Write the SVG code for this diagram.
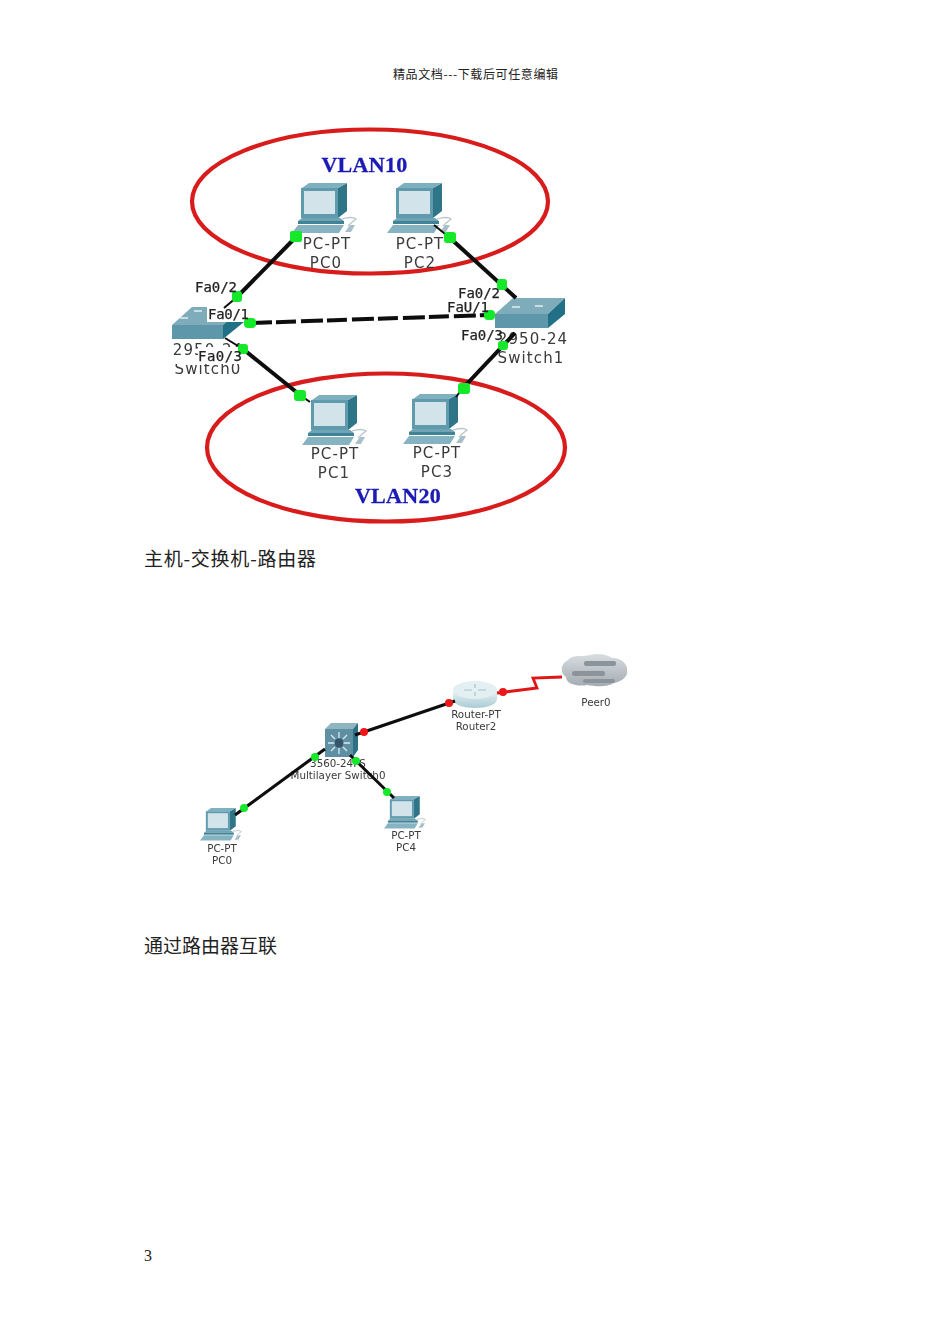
<svg xmlns="http://www.w3.org/2000/svg" xmlns:xlink="http://www.w3.org/1999/xlink" width="950" height="1344" viewBox="0 0 950 1344">
<style>
.cjk{font-family:"Noto Sans CJK SC","Noto Sans",sans-serif;fill:#222}
.lab{font-family:"DejaVu Sans",Verdana,sans-serif;fill:#3a3a3a;text-anchor:middle}
.big{font-size:15px;letter-spacing:1.100px}
.fa{font-family:"DejaVu Sans Mono","Liberation Mono",monospace;fill:#222;font-size:14px;stroke:#222;stroke-width:.25}
.small{font-size:10.300px}
.vlan{font-family:"Liberation Serif","Times New Roman",serif;font-weight:bold;font-size:22px;fill:#1a1ab4;stroke:#1a1ab4;stroke-width:.3;letter-spacing:.3px;text-anchor:middle}
.ell{fill:none;stroke:#d81c1c;stroke-width:4.200}
.wire{fill:none;stroke:#0a0a0a;stroke-width:4}
.thin{fill:none;stroke:#0a0a0a;stroke-width:2}
.wire2{fill:none;stroke:#0a0a0a;stroke-width:3}
.dotG{fill:#12e82a}
.dotR{fill:#ee1515}
.mask{fill:#fff}
</style>
<defs>
<filter id="soft" x="-5%" y="-5%" width="110%" height="110%"><feGaussianBlur stdDeviation="0.45"/></filter>
<linearGradient id="rt" x1="0" y1="0" x2="0" y2="1"><stop offset="0" stop-color="#eaf3f5"/><stop offset="1" stop-color="#a9ccd4"/></linearGradient>
<linearGradient id="cl" x1="0" y1="0" x2="0" y2="1"><stop offset="0" stop-color="#d8dde0"/><stop offset="1" stop-color="#a3acb2"/></linearGradient>
<g id="pc">
<path d="M46 35L55 28L55 0L46 5Z" fill="#2e7488"/>
<path d="M10 5L17 0H55L46 5Z" fill="#7fb0bf"/>
<rect x="9" y="5" width="37" height="30" fill="#5f9aad"/>
<rect x="12" y="8" width="31" height="23" fill="#d3e3ea"/>
<path d="M10 35H48L52 38H6Z" fill="#6fa3b4"/>
<path d="M6 38H52V41H6Z" fill="#3f8296"/>
<path d="M6 42H52L47 50H0Z" fill="#86b3c1"/>
<path d="M50 36Q60 33 64 36Q60 39 56 43" fill="none" stroke="#b6c6cc" stroke-width="1.300"/>
<path d="M53 49L58 42H63L59 49Z" fill="#a8bfc7"/>
</g>
</defs>
<rect width="950" height="1344" fill="#fff"/>
<text id="header" x="475.500" y="79" class="cjk" font-size="12" text-anchor="middle" textLength="165">精品文档---下载后可任意编辑</text>

<g id="figure1" filter="url(#soft)">
<g id="vlan10"><ellipse class="ell" cx="370" cy="201.500" rx="178" ry="72"/><text class="vlan" x="364.500" y="172">VLAN10</text></g>
<g id="vlan20"><ellipse class="ell" cx="386" cy="447.500" rx="179" ry="74"/><text class="vlan" x="398" y="503">VLAN20</text></g>

<g id="switch0">
<path d="M172 325L192 307H244L223 325Z" fill="#7facba"/>
<rect x="180" y="317" width="8" height="2" fill="#c9dde3"/><rect x="194" y="310" width="8" height="2" fill="#c9dde3"/>
<path d="M172 325H223V339H172Z" fill="#5f97aa"/>
<path d="M223 325L244 307V322L223 339Z" fill="#216f85"/>
<rect class="mask" x="207" y="306" width="44" height="16"/>
<text class="lab big" x="208" y="355">2950-24</text>
<rect class="mask" x="198" y="347" width="46" height="15"/>
<text class="lab big" x="208" y="374">Switch0</text>
<rect class="mask" x="176" y="360" width="64" height="4"/>
</g>
<g id="switch1">
<path d="M495 314L513 298H565L548 314Z" fill="#7facba"/>
<path d="M495 314H548V328H495Z" fill="#5f97aa"/>
<path d="M548 314L565 298V314L548 328Z" fill="#216f85"/>
<rect x="512" y="306" width="8" height="2" fill="#c9dde3"/><rect x="535" y="305" width="8" height="2" fill="#c9dde3"/>
<text class="lab big" x="533" y="344">2950-24</text>
<text class="lab big" x="531" y="363">Switch1</text>
</g>
<g id="pc0-a"><use xlink:href="#pc" href="#pc" x="292" y="183"/><text class="lab big" x="327" y="249">PC-PT</text><text class="lab big" x="326" y="268">PC0</text></g>
<g id="pc2-a"><use xlink:href="#pc" href="#pc" x="387" y="183"/><text class="lab big" x="420" y="249">PC-PT</text><text class="lab big" x="420" y="268">PC2</text></g>
<g id="pc1-a"><use xlink:href="#pc" href="#pc" x="302" y="395"/><text class="lab big" x="335" y="459">PC-PT</text><text class="lab big" x="334" y="478">PC1</text></g>
<g id="pc3-a"><use xlink:href="#pc" href="#pc" x="403" y="394"/><text class="lab big" x="437" y="458">PC-PT</text><text class="lab big" x="437" y="477">PC3</text></g>

<g id="connectors-a">
<path class="wire" d="M296 237L237 297"/><path class="thin" d="M237 297L224 308"/>
<path class="thin" d="M434 225L450 238"/><path class="wire" d="M450 238L516 298"/>
<path class="wire" d="M250 323L489 315" stroke-dasharray="22 4 20 5"/>
<path class="thin" d="M225 338L243 349"/><path class="wire" d="M243 349L300 395"/><path class="thin" d="M300 395L310 402"/>
<path class="thin" d="M456 397L463 388"/><path class="wire" d="M463 388L515 333"/>
<g class="dotG">
<rect x="290" y="231" width="12" height="11" rx="2"/><rect x="444" y="232" width="12" height="11" rx="3"/>
<rect x="232" y="291" width="10" height="11" rx="3"/><rect x="497" y="279" width="10" height="11" rx="3"/>
<rect x="244" y="318" width="12" height="10" rx="4"/><rect x="484" y="310" width="11" height="10" rx="4"/>
<rect x="238" y="344" width="10" height="10" rx="3"/><rect x="498" y="341" width="10" height="9" rx="3"/>
<rect x="294" y="390" width="12" height="11" rx="3"/><rect x="458" y="383" width="12" height="11" rx="3"/>
</g>
</g>
<g class="fa">
<text x="195" y="292" textLength="42">Fa0/2</text>
<text x="208" y="319" textLength="41">Fa0/1</text>
<text x="198" y="361" textLength="44">Fa0/3</text>
<text x="458" y="298" textLength="42">Fa0/2</text>
<text x="447" y="312" textLength="42">FaU/1</text>
<text x="461" y="340" textLength="42">Fa0/3</text>
</g>
</g>

<text id="caption1" x="144" y="566" class="cjk" font-size="19" textLength="172">主机-交换机-路由器</text>

<g id="figure2" filter="url(#soft)">
<g id="multilayer-switch0">
<path d="M325 729L331 723H358L353 729Z" fill="#8db5c2"/>
<rect x="325" y="729" width="28" height="28" fill="#5f8fa3"/>
<path d="M353 729L358 723V750L353 757Z" fill="#2f6f86"/>
<g stroke="#dbe8ec" stroke-width="1.300"><path d="M328 743H335M343 743H350M339 732V738M339 748V754M331 735L335 739M347 735L343 739M331 751L335 747M347 751L343 747"/></g>
<circle cx="339" cy="743" r="4.500" fill="#34566b"/>
<text class="lab small" x="338" y="767">3560-24PS</text>
<text class="lab small" x="338" y="779">Multilayer Switch0</text>
</g>
<g id="router2">
<path d="M453 690V699C453 711 497 711 497 699V690Z" fill="url(#rt)"/>
<ellipse cx="475" cy="690" rx="22" ry="9" fill="#e4eff2"/>
<path d="M464 690H472M478 690H486M475 684V688M475 692V696" stroke="#a9c4cc" stroke-width="1.200"/>
<text class="lab small" x="476" y="718">Router-PT</text>
<text class="lab small" x="476" y="730">Router2</text>
</g>
<g id="peer0">
<path d="M568 660C572 654 584 657 590 655C598 653 606 654 612 658C620 657 628 664 627 670C629 677 620 682 614 683C606 688 594 686 587 685C578 687 566 684 566 677C560 674 560 664 568 660Z" fill="url(#cl)"/>
<rect x="584" y="661" width="32" height="5" rx="2" fill="#8b949a"/><rect x="572" y="671" width="33" height="5" rx="2" fill="#8b949a"/><rect x="583" y="679" width="32" height="4" rx="2" fill="#8b949a"/>
<text class="lab small" x="596" y="706">Peer0</text>
</g>
<g id="pc0-b"><use xlink:href="#pc" href="#pc" transform="translate(200 808) scale(.65)"/><text class="lab small" x="222" y="852">PC-PT</text><text class="lab small" x="222" y="864">PC0</text></g>
<g id="pc4-b"><use xlink:href="#pc" href="#pc" transform="translate(384 796) scale(.65)"/><text class="lab small" x="406" y="839">PC-PT</text><text class="lab small" x="406" y="851">PC4</text></g>
<g id="connectors-b">
<path class="wire2" d="M235 815L325 749"/>
<path class="wire2" d="M350 755L394 798"/>
<path class="wire2" d="M355 735L455 701"/>
<path d="M497 693L537 688L533 678L562 677" fill="none" stroke="#e01515" stroke-width="2.800"/>
<circle class="dotG" cx="244" cy="808" r="4"/><circle class="dotG" cx="315" cy="757" r="4"/>
<circle class="dotG" cx="356" cy="761" r="4"/><circle class="dotG" cx="387" cy="792" r="4"/>
<circle class="dotR" cx="364" cy="732" r="4"/><circle class="dotR" cx="449" cy="703" r="4"/>
<circle class="dotR" cx="503" cy="692" r="4"/>
</g>
</g>

<text id="caption2" x="144" y="953" class="cjk" font-size="19">通过路由器互联</text>
<text id="page" x="144" y="1261" font-family="Liberation Serif, serif" font-size="16" fill="#222">3</text>
</svg>
